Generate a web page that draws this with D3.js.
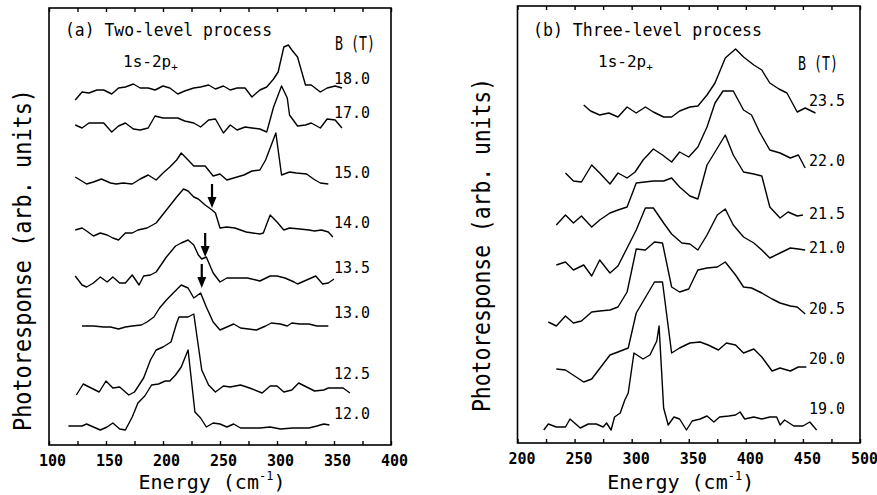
<!DOCTYPE html>
<html><head><meta charset="utf-8">
<script src="https://cdn.jsdelivr.net/npm/d3@7/dist/d3.min.js"></script>
<style>
body{margin:0;background:#fff;}
svg{display:block;font-family:"DejaVu Sans Mono",monospace;}
</style></head><body>
<svg id="c" width="877" height="495"></svg>
<script>
// ---------- DATA: panel (a) two-level process, [energy cm^-1, photoresponse arb.] ----------
const fieldsA = ["18.0","17.0","15.0","14.0","13.5","13.0","12.5","12.0"];
const a180 = [[123,345],[129,353],[135,352],[142,355],[148,355],[155,351],[161,357],[167,358],[174,361],[180,357],[187,357],[193,355],[200,359],[206,357],[213,351],[219,354],[227,357],[233,358],[240,360],[246,356],[253,359],[259,355],[265,357],[272,357],[278,348],[285,355],[291,358],[297,366],[301,373],[306,398],[310,400],[313,395],[318,388],[325,360],[330,360],[338,353],[344,357],[351,359],[357,357]];
const a170 = [[123,320],[129,317],[135,322],[142,322],[148,322],[155,313],[161,319],[167,322],[174,316],[180,315],[187,317],[193,329],[200,327],[206,327],[213,327],[219,324],[227,322],[233,318],[240,325],[246,326],[253,312],[259,320],[265,315],[272,318],[278,317],[285,316],[291,313],[297,338],[301,350],[304,359],[309,347],[311,330],[318,319],[325,320],[330,322],[338,317],[344,326],[351,325],[357,317]];
const a150 = [[123,268],[133,261],[139,263],[146,266],[154,262],[159,261],[165,262],[173,261],[180,266],[187,270],[194,265],[200,272],[206,278],[212,285],[216,292],[222,285],[227,279],[237,279],[244,269],[250,271],[256,265],[262,267],[271,270],[278,274],[285,275],[290,285],[299,312],[304,270],[311,273],[317,272],[326,271],[332,266],[338,262],[345,261]];
const a140 = [[123,215],[129,217],[133,214],[139,209],[145,212],[151,210],[156,207],[161,205],[167,212],[173,212],[178,215],[186,217],[194,222],[203,235],[212,248],[218,256],[222,254],[227,248],[231,246],[237,240],[243,235],[246,232],[250,217],[256,218],[263,217],[273,213],[285,211],[288,212],[294,230],[300,223],[306,215],[311,217],[320,216],[328,215],[333,214],[339,215],[345,213],[349,208]];
const a135 = [[123,169],[129,160],[133,158],[139,162],[145,168],[151,163],[156,168],[162,162],[167,162],[173,170],[179,160],[183,169],[189,170],[194,173],[203,188],[211,199],[216,202],[222,205],[227,200],[231,190],[234,186],[238,188],[244,172],[250,163],[256,167],[265,167],[274,167],[285,164],[294,169],[300,169],[307,167],[315,163],[318,161],[326,165],[334,169],[340,161],[345,162],[350,166]];
const a130 = [[129,119],[139,119],[148,118],[154,118],[161,116],[167,118],[173,119],[181,120],[186,123],[192,128],[197,137],[203,145],[209,152],[216,160],[222,157],[227,147],[233,152],[238,138],[244,123],[250,115],[256,118],[262,121],[268,117],[275,116],[282,115],[290,119],[295,122],[303,121],[309,119],[313,122],[320,121],[328,121],[335,119],[345,119]];
const a125 = [[124,50],[130,61],[137,57],[144,53],[150,64],[156,57],[162,58],[170,50],[175,53],[183,67],[189,85],[194,95],[200,98],[207,103],[212,122],[214,128],[222,128],[227,131],[234,75],[240,60],[246,53],[253,59],[259,58],[268,60],[276,57],[287,52],[294,59],[300,59],[306,53],[313,55],[319,62],[326,58],[333,54],[341,55],[345,57],[351,57],[358,57],[364,52]];
const a120 = [[117,19],[129,19],[133,21],[139,18],[145,15],[151,18],[156,22],[162,16],[167,15],[173,28],[178,42],[184,49],[190,60],[196,61],[202,64],[206,64],[211,70],[216,78],[222,95],[228,33],[233,27],[238,18],[244,22],[250,21],[256,18],[262,21],[268,17],[275,17],[285,17],[294,18],[303,16],[314,17],[328,17],[335,19],[341,21],[346,20]];
const tracesA = [a180, a170, a150, a140, a135, a130, a125, a120];
// arrows marking the shoulder: [energy, response at arrow tip]
const arrowsA = [[243,237],[237,188],[234,157]];
const tickLabelsA = [100,150,200,250,300,350,400];

// ---------- DATA: panel (b) three-level process ----------
const fieldsB = ["23.5","22.0","21.5","21.0","20.5","20.0","19.0"];
const b235 = [[258,338],[264,332],[272,328],[280,330],[288,326],[296,336],[304,330],[312,336],[319,331],[328,326],[335,326],[342,332],[351,336],[358,337],[366,348],[373,360],[382,385],[391,394],[398,386],[407,378],[414,373],[421,360],[429,354],[436,350],[445,331],[452,335],[461,330]];
const b220 = [[242,270],[249,262],[256,261],[265,278],[272,270],[281,259],[288,270],[296,265],[303,271],[310,283],[319,294],[327,288],[335,281],[342,291],[350,286],[358,296],[366,316],[373,340],[380,352],[389,352],[398,333],[405,328],[412,311],[421,293],[430,290],[439,285],[446,288],[452,275]];
const b215 = [[234,218],[242,228],[249,220],[256,227],[265,216],[272,223],[281,230],[288,233],[296,236],[304,260],[319,262],[328,262],[335,265],[342,256],[351,247],[358,244],[366,278],[373,291],[382,308],[389,288],[398,271],[407,269],[414,267],[421,236],[430,225],[437,231],[445,227],[450,228]];
const b210 = [[234,178],[242,181],[249,173],[258,178],[265,167],[272,183],[281,170],[288,177],[296,195],[304,213],[312,235],[319,235],[328,220],[335,209],[344,200],[351,199],[358,193],[366,208],[375,228],[382,234],[389,218],[398,206],[407,200],[414,193],[421,185],[430,190],[439,195],[446,194],[452,193]];
const b205 = [[227,121],[234,117],[242,127],[249,120],[256,122],[265,131],[272,132],[281,133],[288,136],[296,151],[304,194],[312,193],[320,201],[327,200],[335,156],[342,151],[350,154],[358,173],[366,175],[375,176],[382,181],[391,168],[398,156],[405,155],[414,150],[423,144],[430,140],[439,137],[445,136],[452,129]];
const b200 = [[234,74],[242,73],[258,61],[265,64],[281,88],[288,91],[297,95],[304,130],[320,161],[327,161],[335,90],[342,95],[351,100],[360,101],[367,98],[376,93],[383,100],[391,98],[398,90],[407,94],[414,86],[423,72],[430,75],[439,72],[446,76],[453,76]];
const b190 = [[223,13],[227,19],[234,16],[242,16],[246,24],[255,15],[262,19],[269,19],[275,16],[278,20],[282,13],[285,26],[290,30],[294,43],[297,50],[302,90],[310,84],[316,88],[322,102],[324,117],[328,35],[332,18],[337,26],[342,24],[348,13],[353,22],[360,24],[366,27],[372,21],[377,26],[385,27],[391,28],[395,31],[399,24],[407,26],[414,24],[421,26],[427,26],[430,18],[434,23],[442,17],[450,17],[456,21],[462,13]];
const tracesB = [b235, b220, b215, b210, b205, b200, b190];
const tickLabelsB = [200,250,300,350,400,450,500];

// ---------- LAYOUT ----------
const svg = d3.select("#c");
const xA = d3.scaleLinear().domain([100,400]).range([49,391]);
const yA = d3.scaleLinear().domain([0,437]).range([445,8]);
const xB = d3.scaleLinear().domain([200,500]).range([517.5,860]);
const yB = d3.scaleLinear().domain([0,437]).range([443,6]);

function text(g, x, y, s, size, opts = {}) {
  const t = g.append("text").attr("x", x).attr("y", y).attr("font-size", size).attr("fill", "#000")
    .attr("font-family", "DejaVu Sans Mono");
  if (opts.anchor) t.attr("text-anchor", opts.anchor);
  if (opts.weight) t.attr("font-weight", opts.weight);
  if (opts.len) t.attr("textLength", opts.len).attr("lengthAdjust", "spacingAndGlyphs");
  if (opts.rotate) t.attr("transform", `rotate(-90,${x},${y})`);
  t.text(s);
  return t;
}

function drawPanel(x, y, traces, fields, tickLabels, cfg) {
  const g = svg.append("g");
  const [x0, x1] = x.range();
  const [yb, yt] = y.range();
  g.append("rect").attr("x", x0).attr("y", yt).attr("width", x1 - x0).attr("height", yb - yt)
    .attr("fill", "none").attr("stroke", "#000").attr("stroke-width", 1.6);
  const minor = d3.range(x.domain()[0], x.domain()[1] + 1, 25);
  const bottom = d3.axisBottom(x).tickValues(minor).tickSizeInner(-4).tickSizeOuter(0).tickPadding(cfg.pad)
    .tickFormat(d => tickLabels.includes(d) ? d : "");
  const gb = g.append("g").attr("transform", `translate(0,${yb})`).call(bottom);
  gb.select(".domain").remove();
  gb.selectAll("line").attr("stroke", "#000").attr("stroke-width", 1.4);
  gb.selectAll("text").attr("font-family", "DejaVu Sans Mono").attr("font-size", 15)
    .attr("font-weight", "bold").attr("fill", "#000").attr("dx", cfg.tdx);
  const top = d3.axisTop(x).tickValues(minor).tickSizeInner(-4).tickSizeOuter(0).tickFormat("");
  const gt = g.append("g").attr("transform", `translate(0,${yt})`).call(top);
  gt.select(".domain").remove();
  gt.selectAll("line").attr("stroke", "#000").attr("stroke-width", 1.4);

  const line = d3.line().x(d => x(d[0])).y(d => y(d[1]));
  g.selectAll("path.trace").data(traces).join("path").attr("class", "trace")
    .attr("d", line).attr("fill", "none").attr("stroke", "#000")
    .attr("stroke-width", 1.4).attr("stroke-linejoin", "round");

  fields.forEach((f, i) => text(g, cfg.labelX, cfg.labelY[i] + 5.8, f, 16, {len: 36}));

  // titles
  text(g, cfg.titleX, 36, cfg.title, 18, {len: cfg.titleLen});
  const sub = text(g, cfg.subX, 67, "1s-2p", 16, {});
  sub.append("tspan").attr("font-size", 11).attr("dy", 4).text("+");
  text(g, cfg.bX, cfg.bY, "B (T)", 20, {len: 40});

  // axis titles
  text(g, cfg.ylabX, cfg.ylabY, "Photoresponse (arb. units)", 24, {anchor: "middle", rotate: true, len: cfg.ylabLen});
  const xt = g.append("text").attr("x", (x0 + x1) / 2 - cfg.xlabShift).attr("y", 489).attr("text-anchor", "middle")
    .attr("font-size", 20).attr("font-family", "DejaVu Sans Mono").attr("fill", "#000");
  xt.append("tspan").text("Energy (cm");
  xt.append("tspan").attr("font-size", 12).attr("dy", -9).text("-1");
  xt.append("tspan").attr("dy", 9).text(")");
  return g;
}

const gA = drawPanel(xA, yA, tracesA, fieldsA, tickLabelsA, {
  pad: 10, tdx: 3, labelX: 334, labelY: [78,112,172,222,267,312,373,413],
  title: "(a) Two-level process", titleX: 65, titleLen: 207, subX: 123,
  bX: 335, bY: 50, ylabX: 31, ylabY: 260, ylabLen: 342, xlabShift: 8
});
const gB = drawPanel(xB, yB, tracesB, fieldsB, tickLabelsB, {
  pad: 10, tdx: 4, labelX: 809, labelY: [100,160,213,247,308,358,408],
  title: "(b) Three-level process", titleX: 533, titleLen: 229, subX: 598,
  bX: 798, bY: 70, ylabX: 490, ylabY: 245, ylabLen: 334, xlabShift: 8
});

// arrows in panel (a)
const arrowLen = 24;
arrowsA.forEach(([e, v]) => {
  const ax = xA(e), ay = yA(v);
  gA.append("line").attr("x1", ax).attr("x2", ax).attr("y1", ay - arrowLen).attr("y2", ay - 8)
    .attr("stroke", "#000").attr("stroke-width", 2.2);
  gA.append("path").attr("d", `M${ax - 4.5},${ay - 11}L${ax + 4.5},${ay - 11}L${ax},${ay}Z`).attr("fill", "#000");
});
</script>
</body></html>
